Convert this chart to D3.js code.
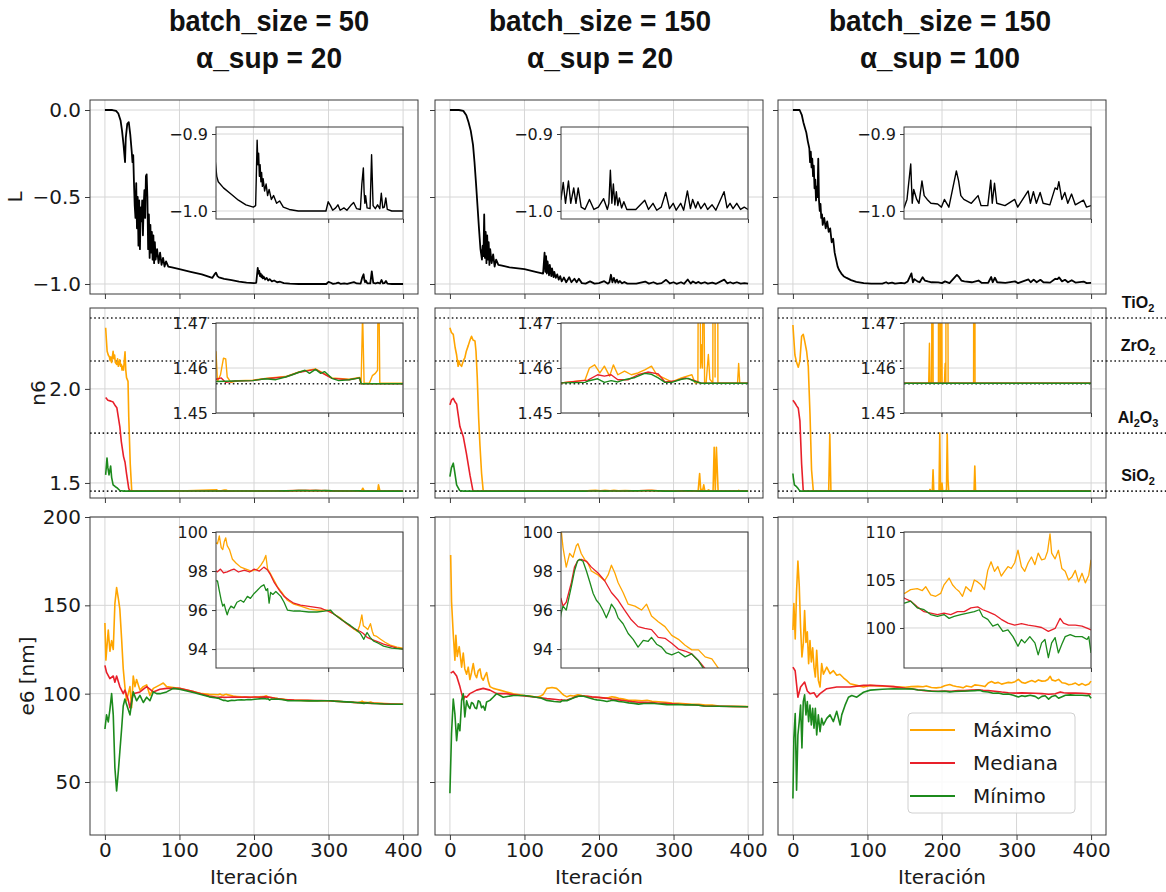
<!DOCTYPE html>
<html>
<head>
<meta charset="utf-8">
<script src="https://cdn.jsdelivr.net/npm/d3@7"></script>
<style>
  body { margin: 0; background: #fff; }
  svg { display: block; font-family: "DejaVu Sans", sans-serif; }
</style>
</head>
<body>
<svg id="chart" width="1166" height="892"></svg>
<script>
// ---------- data ----------
const colTitles = ["batch_size = 50", "batch_size = 150", "batch_size = 150"];
const colAlphas = ["α_sup = 20", "α_sup = 20", "α_sup = 100"];
const iterTicks = [0, 100, 200, 300, 400];
const insetIterTicks = [200, 300, 400];
const lTicks = [-1, -0.5, 0];
const lInsetTicks = [-1, -0.9];
const nTicks = [1.5, 2.0];
const nInsetTicks = [1.45, 1.46, 1.47];
const eTicks = [50, 100, 150, 200];
const eInsetTicks = [94, 96, 98, 100];
const eInsetTicksC3 = [100, 105, 110];
const seriesNames = ["Máximo", "Mediana", "Mínimo"];
const materialNames = ["TiO2", "ZrO2", "Al2O3", "SiO2"];
const materialN = [2.377, 2.148, 1.765, 1.4565];

// L (loss) per configuration: [iteration, value]
const L_bs50_a20 = [[0,0],[10,0],[15,-0.005],[18,-0.02],[21,-0.06],[23,-0.12],[25,-0.2],[27,-0.3],[28,-0.16],[30,-0.08],[32,-0.07],[34,-0.14],[36,-0.24],[37,-0.3],[38,-0.26],[39,-0.42],[40,-0.55],[41,-0.62],[42,-0.42],[43,-0.68],[44,-0.5],[45,-0.78],[46,-0.52],[47,-0.8],[48,-0.56],[49,-0.64],[50,-0.52],[51,-0.72],[52,-0.55],[53,-0.46],[54,-0.62],[55,-0.38],[56,-0.37],[57,-0.5],[58,-0.8],[59,-0.6],[60,-0.85],[61,-0.66],[62,-0.82],[63,-0.7],[64,-0.86],[65,-0.72],[66,-0.88],[67,-0.76],[68,-0.86],[70,-0.8],[72,-0.88],[74,-0.82],[76,-0.89],[78,-0.85],[80,-0.9],[82,-0.87],[85,-0.9],[90,-0.905],[100,-0.915],[115,-0.93],[130,-0.945],[144,-0.965],[147,-0.945],[149,-0.935],[151,-0.955],[153,-0.962],[160,-0.97],[170,-0.978],[180,-0.986],[190,-0.992],[200,-0.995],[203,-0.993],[205,-0.908],[206,-0.94],[207,-0.925],[208,-0.955],[209,-0.94],[210,-0.962],[211,-0.95],[212,-0.968],[213,-0.958],[215,-0.974],[217,-0.965],[219,-0.98],[221,-0.972],[224,-0.985],[227,-0.98],[231,-0.99],[235,-0.987],[240,-0.995],[248,-0.998],[260,-1.0],[297,-1.0],[300,-0.988],[303,-0.993],[306,-0.999],[310,-0.996],[313,-0.992],[316,-0.999],[321,-0.996],[325,-0.999],[330,-0.993],[334,-0.989],[338,-0.997],[343,-0.998],[345,-0.965],[347,-0.944],[348,-0.975],[349,-0.99],[350,-0.98],[352,-0.996],[356,-0.997],[358,-0.927],[359,-0.96],[360,-0.993],[363,-0.997],[366,-0.992],[369,-0.997],[371,-0.977],[373,-0.996],[375,-0.995],[377,-0.983],[379,-0.998],[385,-1.0],[400,-1.0]];
const L_bs150_a20 = [[0,0],[12,0],[18,-0.005],[22,-0.03],[25,-0.07],[28,-0.12],[31,-0.2],[33,-0.3],[35,-0.42],[37,-0.55],[39,-0.68],[41,-0.8],[43,-0.86],[44,-0.78],[45,-0.84],[46,-0.6],[47,-0.85],[48,-0.7],[49,-0.88],[50,-0.72],[51,-0.86],[52,-0.76],[53,-0.89],[54,-0.8],[56,-0.88],[58,-0.83],[60,-0.9],[62,-0.86],[65,-0.89],[70,-0.895],[80,-0.905],[100,-0.915],[115,-0.93],[125,-0.94],[127,-0.82],[128,-0.93],[129,-0.84],[130,-0.94],[131,-0.87],[133,-0.95],[134,-0.89],[136,-0.955],[137,-0.91],[139,-0.96],[140,-0.93],[142,-0.965],[144,-0.945],[146,-0.975],[148,-0.955],[150,-0.985],[153,-0.963],[156,-0.99],[160,-0.961],[163,-0.99],[167,-0.97],[170,-0.99],[173,-0.97],[177,-0.995],[182,-0.998],[188,-0.985],[194,-0.998],[200,-0.995],[207,-0.984],[212,-0.998],[214,-0.99],[216,-0.947],[218,-0.99],[220,-0.965],[222,-0.992],[224,-0.975],[226,-0.993],[228,-0.983],[231,-0.996],[234,-0.988],[238,-0.998],[250,-0.998],[262,-0.986],[267,-0.998],[273,-0.99],[278,-0.999],[284,-0.995],[290,-0.976],[295,-0.997],[300,-0.99],[304,-0.999],[310,-0.99],[314,-0.999],[319,-0.974],[323,-0.997],[326,-0.985],[330,-0.996],[333,-0.988],[337,-0.997],[342,-0.99],[346,-0.998],[352,-0.992],[357,-0.999],[368,-0.975],[372,-0.996],[376,-0.99],[380,-0.997],[385,-0.99],[390,-0.998],[395,-0.995],[400,-0.998]];
const L_bs150_a100 = [[0,0],[9,0],[12,-0.03],[14,-0.07],[16,-0.1],[18,-0.13],[20,-0.18],[22,-0.22],[23,-0.3],[24,-0.24],[25,-0.33],[26,-0.28],[27,-0.38],[28,-0.32],[29,-0.45],[30,-0.4],[31,-0.52],[32,-0.44],[33,-0.5],[34,-0.28],[35,-0.52],[36,-0.58],[37,-0.54],[38,-0.62],[39,-0.6],[40,-0.66],[42,-0.62],[44,-0.68],[46,-0.64],[48,-0.7],[50,-0.68],[52,-0.76],[54,-0.74],[56,-0.82],[58,-0.86],[60,-0.9],[62,-0.92],[65,-0.94],[68,-0.955],[72,-0.965],[78,-0.978],[85,-0.988],[95,-0.995],[105,-0.998],[120,-0.998],[125,-0.99],[128,-0.997],[133,-0.992],[137,-0.998],[145,-0.994],[150,-0.996],[154,-0.985],[159,-0.939],[161,-0.99],[163,-0.972],[167,-0.985],[170,-0.99],[174,-0.961],[177,-0.98],[181,-0.985],[186,-0.99],[195,-0.991],[200,-0.995],[204,-0.985],[210,-0.995],[220,-0.948],[223,-0.961],[226,-0.98],[230,-0.985],[240,-0.99],[249,-0.98],[253,-0.993],[262,-0.993],[266,-0.96],[268,-0.99],[271,-0.964],[274,-0.99],[285,-0.993],[298,-0.985],[302,-0.995],[316,-0.974],[319,-0.99],[323,-0.975],[327,-0.99],[332,-0.976],[336,-0.99],[345,-0.992],[352,-0.97],[355,-0.972],[357,-0.962],[361,-0.985],[365,-0.976],[369,-0.99],[374,-0.978],[379,-0.992],[390,-0.986],[394,-0.995],[400,-0.993]];

// n6 (refractive index) max / median / min
const n6Max_bs50_a20 = [[1,2.325],[2,2.26],[3,2.2],[4.5,2.18],[6,2.17],[7,2.15],[8,2.17],[9,2.14],[11,2.2],[12,2.16],[13,2.18],[14,2.14],[16,2.13],[17,2.16],[18,2.12],[20,2.155],[21,2.12],[22,2.13],[23,2.1],[24,2.12],[25,2.1],[26,2.15],[27,2.197],[28,2.1],[29,2.06],[31,2.04],[32,1.85],[34,1.6],[36,1.4575],[60,1.4572],[100,1.4571],[150,1.4636],[152,1.457],[156,1.4585],[160,1.4622],[163,1.462],[165,1.458],[170,1.4568],[180,1.4572],[199,1.4573],[216,1.4577],[243,1.4581],[260,1.4591],[283,1.4598],[305,1.4578],[328,1.4575],[342,1.4579],[344,1.4566],[346,1.472],[348,1.4566],[355,1.4566],[359,1.4583],[363,1.4588],[366,1.4595],[367,1.49],[369,1.4566],[400,1.4566]];
const n6Med_bs50_a20 = [[1,1.954],[4,1.94],[8,1.935],[11,1.93],[14,1.91],[16,1.9],[18,1.85],[20,1.8],[22,1.72],[25,1.64],[27,1.61],[29,1.55],[32,1.47],[34,1.4566],[60,1.4568],[100,1.457],[150,1.4575],[157,1.4578],[163,1.4568],[175,1.4571],[199,1.4572],[216,1.4576],[243,1.458],[260,1.459],[283,1.4597],[305,1.4577],[328,1.4574],[342,1.4578],[344,1.4565],[400,1.4565]];
const n6Min_bs50_a20 = [[1,1.543],[2.8,1.633],[4,1.58],[5.5,1.543],[7.7,1.59],[9,1.53],[11,1.49],[14,1.48],[16,1.475],[20,1.46],[25,1.4566],[60,1.4568],[100,1.457],[150,1.457],[175,1.4571],[199,1.4572],[216,1.4576],[230,1.4574],[243,1.458],[252,1.4585],[260,1.459],[269,1.4595],[275,1.4588],[283,1.4597],[290,1.4588],[295,1.4592],[305,1.4577],[314,1.4572],[328,1.4574],[342,1.4578],[344,1.4565],[400,1.4565]];
const n6Max_bs150_a20 = [[0,2.325],[2,2.3],[4.5,2.29],[7,2.22],[9,2.18],[11,2.12],[12,2.15],[13.4,2.13],[15.7,2.12],[18,2.15],[20,2.165],[22,2.2],[24.6,2.23],[27,2.26],[29,2.28],[31,2.26],[33.6,2.255],[35,2.2],[36.7,2.06],[38.5,1.85],[40.3,1.7],[42.5,1.55],[44.7,1.4566],[100,1.4567],[150,1.4567],[182,1.4573],[188,1.46],[195,1.4607],[202,1.4589],[208,1.4604],[215,1.4582],[220,1.4607],[226,1.4585],[235,1.4593],[244,1.4585],[253,1.4589],[262,1.4596],[271,1.4604],[278,1.4585],[287,1.4578],[298,1.4569],[311,1.4578],[325,1.4585],[329,1.4567],[333,1.4567],[335,1.55],[336.5,1.46],[337.5,1.4652],[339,1.46],[340.5,1.49],[342,1.4567],[344,1.4567],[347,1.463],[349,1.4575],[353,1.4567],[354.5,1.69],[356,1.458],[357.5,1.69],[359.8,1.4566],[386,1.4566],[387.5,1.461],[389,1.4566],[400,1.4566]];
const n6Med_bs150_a20 = [[0,1.915],[2,1.94],[4.5,1.95],[7,1.93],[9,1.92],[13.4,1.8],[18,1.745],[22,1.66],[27,1.54],[31,1.4566],[100,1.4567],[150,1.4567],[186,1.4573],[199,1.4585],[208,1.4582],[217,1.4585],[226,1.4574],[240,1.4574],[253,1.4585],[266,1.4591],[280,1.4587],[289,1.4569],[302,1.4571],[316,1.4578],[329,1.4572],[338,1.4566],[400,1.4566]];
const n6Min_bs150_a20 = [[0,1.534],[2,1.58],[4.5,1.605],[6,1.57],[9,1.49],[13,1.46],[18,1.4566],[100,1.4567],[150,1.4567],[182,1.4568],[186,1.4571],[199,1.4576],[208,1.4568],[217,1.4572],[226,1.4569],[235,1.4574],[249,1.4579],[262,1.4588],[271,1.4586],[280,1.4578],[289,1.4568],[298,1.4568],[311,1.4575],[320,1.4577],[329,1.457],[338,1.4566],[400,1.4566]];
const n6Max_bs150_a100 = [[0,2.34],[2.7,2.18],[5,2.14],[7.2,2.115],[9.4,2.15],[11.7,2.28],[13.9,2.29],[16,2.25],[18.4,2.2],[20.6,2.12],[22.9,1.87],[25,1.57],[27.4,1.4566],[48,1.4566],[49.5,1.76],[51,1.4566],[183,1.4566],[184,1.4655],[185,1.4566],[187,1.4566],[188,1.57],[189,1.4566],[196,1.4566],[197,1.765],[198,1.4566],[199,1.4566],[200,1.5],[201,1.4566],[204,1.4566],[205,1.461],[206,1.4566],[207,1.76],[208,1.52],[209,1.4566],[243,1.4566],[244,1.59],[245,1.4566],[400,1.4566]];
const n6Med_bs150_a100 = [[0,1.94],[2.7,1.925],[5,1.91],[7.2,1.897],[9.4,1.83],[11.7,1.6],[13.9,1.4566],[400,1.4566]];
const n6Min_bs150_a100 = [[0,1.55],[0.5,1.53],[2,1.49],[4.9,1.48],[7,1.47],[9.4,1.4566],[400,1.4566]];

// e6 (thickness, nm) max / median / min
const e6Max_bs50_a20 = [[0,140],[1.3,119],[3,128],[4.5,136],[6.7,124],[9,130],[11.2,125],[13.4,151],[15.7,160],[18,154],[20,148],[22.4,131],[24.6,114],[26.8,104],[29,96],[31.3,100],[33.6,104],[35.8,92],[38,110],[40.3,104],[42.5,108],[47,102],[51.5,104],[56,105],[60.4,99],[64.9,103],[69.4,104],[73.8,105],[78.3,106],[82.8,104],[91.7,103.5],[100,103],[110,102],[120,101],[130,100],[140,99.6],[152,99.4],[154.4,99.8],[157,99.2],[159,99.1],[161,99.5],[163,99.7],[165,99.3],[168,99.1],[172,98.6],[177,98.4],[183,98.2],[190,98.1],[197,98.0],[205.5,98.1],[210,98.3],[214,98.55],[216.6,98.8],[219,98.1],[223,97.85],[228,97.5],[232,97.2],[238,96.9],[245.5,96.5],[254,96.3],[263,96.2],[275,96.05],[285,96.0],[299,96.0],[307.6,95.8],[316,95.6],[325,95.3],[332,95.1],[339,94.9],[342,95.2],[345,95.75],[347,95.2],[350,95.1],[353,95.0],[356.5,95.3],[359,94.9],[361,94.7],[365,94.65],[370,94.5],[376,94.35],[383,94.2],[392,94.1],[400,94.05]];
const e6Med_bs50_a20 = [[0,116],[2.2,112],[6.7,108.5],[11.2,110],[13.4,106.5],[15.7,110],[20,104],[24.6,100],[26.8,102],[31.3,96.5],[33.6,92],[38,100],[47,101],[56,104],[64.9,101],[73.8,102.5],[82.8,103],[100,103],[120,101],[140,98.6],[150,98.0],[152,97.96],[156,98.1],[160,97.9],[165,97.96],[170,98.05],[174,98.1],[180,97.95],[188,98.05],[195,97.95],[201,98.1],[208,98.0],[214,98.2],[219,98.05],[223,97.8],[228,97.4],[235,97.0],[241,96.7],[248,96.5],[254,96.35],[263,96.25],[272,96.2],[281,96.15],[290,96.1],[299,95.95],[307.6,95.8],[316,95.55],[325,95.3],[334,95.05],[343,94.9],[347,94.8],[352,94.6],[358,94.5],[365,94.4],[374,94.25],[383,94.15],[392,94.05],[400,94.0]];
const e6Min_bs50_a20 = [[0,80],[2.2,88],[4.5,84],[6.7,91],[9,100],[11.2,88],[13.4,58],[15.7,45],[18,56],[20,67],[22.4,80],[24.6,93],[26.8,97],[29,94],[31.3,91],[33.6,88],[38,101],[42.5,96],[47,99],[51.5,95],[56,98],[60.4,96],[64.9,101],[69.4,100],[73.8,100],[82.8,101],[91.7,103],[100,102.5],[120,100.5],[140,98.2],[150,97.5],[152,97.5],[154.4,97.0],[157,96.5],[159,96.2],[161,96.3],[163,96.0],[165,95.75],[167,96.0],[170,96.2],[174,96.1],[178,96.4],[183,96.5],[187,96.4],[192,96.7],[196,96.6],[201,96.85],[205,97.0],[210,97.2],[214,97.3],[217,97.0],[219,97.1],[221,96.35],[223,96.9],[226,96.8],[230,96.95],[236.6,96.7],[241,96.4],[245.5,96.0],[254,95.95],[263,95.95],[274,95.9],[285,95.9],[295,95.95],[303,96.0],[307.6,95.8],[318,95.5],[330,95.2],[337,95.0],[343,94.8],[347.6,94.5],[350,94.7],[352,94.85],[356,94.6],[361,94.4],[367,94.3],[374,94.15],[385,94.05],[400,94.0]];
const e6Max_bs150_a20 = [[1,178.5],[2.2,152],[4.5,133.6],[6.7,119],[8,133],[9.8,121],[12.5,126.6],[15.7,115],[17.9,123],[20,114],[22.4,111],[24.6,115],[26.8,108],[29,112],[31.3,117],[33.6,111],[35.8,109],[38,113],[40.3,114],[42.5,109],[44.7,107.6],[47,110],[49.2,112],[51.5,107],[53.7,104],[58.2,103],[62.6,102.5],[67,102],[76,101],[85,100],[100,99],[110,98.5],[116,98],[121,98.5],[125,99.5],[130,103],[137,103.5],[143,103],[147,101.5],[150,100.2],[152.7,99.2],[157,98.2],[161.6,98.9],[166,98.7],[170.5,99.3],[172.7,99.4],[177,98.9],[181.6,98.6],[186,98.4],[190.6,98.0],[199.5,97.8],[208.4,97.5],[213,97.8],[217.4,98.3],[222,97.9],[226.4,97.4],[233,96.9],[239.8,96.3],[248.8,96.2],[257.7,96.0],[264.4,96.3],[271,95.7],[280,95.4],[289,95.15],[298,94.7],[307,94.5],[315.9,94.2],[324.8,93.96],[333.8,93.96],[342.7,93.6],[351.7,93.5],[360.7,93.0],[380,92.8],[400,92.7]];
const e6Med_bs150_a20 = [[1,111.6],[4.5,112.6],[9,110],[13.4,104],[17.9,96.5],[20,98.5],[22.4,98],[26.8,100],[35.8,102],[44.7,103],[53.7,102],[62.6,100],[76,100],[94,99],[116,98],[130,97.2],[140,96.8],[148,96.4],[150,96.6],[152.7,96.2],[157,96.4],[163.8,97.4],[168,98.2],[172.7,98.55],[177,98.6],[184,98.5],[190.6,98.2],[199.5,97.9],[208.4,97.5],[217.4,96.9],[226.4,96.5],[235,96.0],[244,95.5],[253,95.15],[262,95.06],[271,95.0],[280,94.6],[289,94.55],[298,94.3],[307,94.0],[315.9,93.9],[324.8,93.75],[333.8,93.4],[342.7,93.0],[360,92.9],[380,92.75],[400,92.6]];
const e6Min_bs150_a20 = [[0,43.6],[2.2,77.7],[4.5,97],[6.7,88.5],[9,73.4],[11.2,83],[13.4,79],[15.7,96.3],[17.9,100],[20,86.8],[22.4,96],[24.6,93],[26.8,91.5],[29,95],[31.3,94.3],[33.6,92],[35.8,91.5],[38,96],[40.3,95.3],[42.5,92],[44.7,93],[47,90.6],[49.2,95.3],[53.7,96.2],[58,98],[62.6,100],[71.6,98],[85,99],[100,99],[116,98],[122,97.5],[130,96.2],[140,95.6],[148,95.3],[150,95.8],[152.7,96.2],[157,96.0],[163.8,97.2],[168,98.0],[172,98.5],[175,98.6],[179.4,98.5],[184,98.0],[188.4,97.45],[193,96.85],[197.3,96.5],[201.7,96.3],[206,96.0],[210.6,95.6],[215,96.0],[217.4,96.3],[222,96.05],[226.4,95.6],[233,95.3],[239.8,94.8],[246.5,94.5],[253,94.1],[260,94.45],[266.6,94.4],[271,94.6],[277.8,94.25],[284.5,94.1],[291,93.8],[298,93.7],[307,93.85],[315.9,93.6],[324.8,93.75],[333.8,93.4],[340.5,93.0],[360,92.9],[380,92.75],[400,92.6]];
const e6Max_bs150_a100 = [[0,136],[1.3,151],[3.1,131],[4.9,158],[6.7,175],[8.5,161],[10.3,137.5],[12.1,120.8],[13.9,128],[15.7,147],[17.5,129],[19.3,135],[21.1,117],[22.9,130],[24.7,118],[26.5,126],[28.3,115],[30.1,109.4],[31.9,124.5],[34.1,107.5],[36.4,103.8],[38.6,117],[40.9,111],[45.4,115],[49.8,111.3],[54.3,113],[58.8,110.4],[63,111],[67.8,109],[72,107.5],[76.8,105.6],[85.7,104.7],[94.7,103.8],[103.7,104.7],[120,104.2],[135,104],[150.7,103.6],[158.8,104],[167.7,104.1],[174.5,103.9],[179,104.3],[185.7,103.45],[192.4,103.3],[199,103.6],[203.5,104.5],[210.3,105.2],[214.8,104.5],[219.3,104.1],[223.8,103.8],[228.2,103.3],[232.7,104.3],[239.5,103.8],[244,105],[248.5,104.8],[253,104.5],[257.5,104],[262,106],[266.4,106.9],[271,105.9],[275.4,106.4],[280,105.4],[284.4,105.9],[289,106.4],[293.4,106.2],[298,106.8],[302.4,108.1],[307,106.4],[311.4,105.9],[316,106.8],[320.4,107.4],[325,106.6],[329.4,107.8],[334,107.1],[338.4,107.2],[342,108.0],[345.2,109.8],[347.4,107.8],[352,107.2],[356.4,108.1],[361,106.2],[365.5,105.9],[370,105],[374.4,105.3],[379,106],[383.4,104.8],[388,105.7],[392.4,104.7],[397,105.5],[400,107.1]];
const e6Med_bs150_a100 = [[0,115],[3,113],[6.7,98],[10.3,103.8],[15.7,106.6],[19.3,101.5],[22.9,100],[28.3,100.5],[31.9,98],[36.4,100],[45.4,102.8],[58.8,103.8],[76.8,103.8],[94.7,104.7],[103.7,104.7],[120,104.5],[135,104],[150.7,103.1],[158.8,102.8],[167.7,102.2],[176.8,101.7],[185.7,101.55],[194.7,101.4],[203.5,101.55],[212.5,101.4],[221.5,101.7],[230.5,101.7],[239.5,102.1],[248.5,102.2],[255.2,101.9],[262,101.7],[271,101.4],[280,100.9],[289,100.5],[298,100.3],[307,100.45],[316,100.3],[325,100.2],[334,100.05],[343,99.65],[352,99.95],[358.7,101.0],[363.2,100.5],[370,100.3],[379,100.3],[388,100.2],[397,99.9],[400,99.8]];
const e6Min_bs150_a100 = [[0,40.7],[1.3,75],[3.1,88.8],[4.9,45.4],[6.7,76.6],[8.5,84.2],[10.3,93.6],[12.1,69.3],[13.9,95.5],[15.7,99.3],[17.5,88],[19.3,95.5],[21.1,84.2],[22.9,93.6],[24.7,82.3],[26.5,91.7],[28.3,80.4],[30.1,91.7],[31.9,76.6],[34.1,88],[36.4,78.5],[38.6,86],[40.9,82.3],[45.4,86],[49.8,88],[54.3,84.2],[58.8,90],[63.3,82.3],[65.5,88],[70,93.5],[74.5,98],[79,99],[85.7,98],[94.7,100.8],[103.7,102],[120,102.5],[135,102.8],[150.7,102.6],[158.8,102.8],[167.7,102.1],[176.8,101.9],[185.7,101.4],[194.7,101.2],[203.5,101.4],[210.3,101.0],[217,101.2],[226,101.4],[235,101.55],[244,101.7],[250.7,101.9],[255.2,101.2],[262,100.9],[268.7,100.2],[275.4,100.4],[282.2,99.65],[289,99.8],[295.7,99.1],[302.4,98.1],[307,98.8],[311.4,98.45],[318.2,99.1],[325,98.45],[329.4,97.2],[334,98.45],[338.4,98.8],[343,96.9],[347.4,98.45],[352,99.0],[356.4,97.4],[361,98.3],[365.5,99.1],[372.2,99.3],[379,99.1],[388,99.1],[394.7,98.8],[397,99.1],[400,97.4]];

// ---------- layout ----------
const COL_LEFT = [90, 435, 778];
const PANEL_W = 328;
const ROW_BOX = [{ top: 100, h: 194 }, { top: 308, h: 190 }, { top: 517, h: 318 }];
const INSET_BOX = [{ top: 127, h: 92 }, { top: 323, h: 90 }, { top: 532, h: 136 }];
const INSET_DX = 126, INSET_W = 187;
const COLORS = ["#ffa500", "#e8202a", "#1c8a1c"];
const GRID = "#d6d6d6", FRAME = "#3a3a3a", TEXT = "#1a1a1a";

const svg = d3.select("#chart");
const defs = svg.append("defs");
let clipCount = 0;

function addClip(x, y, w, h) {
    const id = "clip" + (clipCount++);
    defs.append("clipPath").attr("id", id)
        .append("rect").attr("x", x).attr("y", y).attr("width", w).attr("height", h);
    return `url(#${id})`;
}

// One matplotlib-like axes box: grid, optional dotted reference lines, series, frame, ticks.
function plotBox(c) {
    const x = d3.scaleLinear().domain(c.xDomain).range([c.left, c.left + c.width]);
    const y = d3.scaleLinear().domain(c.yDomain).range([c.top + c.height, c.top]);
    const g = svg.append("g");

    g.append("rect")
        .attr("x", c.left).attr("y", c.top)
        .attr("width", c.width).attr("height", c.height)
        .attr("fill", "#fff");

    g.selectAll("line.gx").data(c.xTicks).join("line").attr("class", "gx")
        .attr("x1", d => x(d)).attr("x2", d => x(d))
        .attr("y1", c.top).attr("y2", c.top + c.height)
        .attr("stroke", GRID).attr("stroke-width", 1);
    g.selectAll("line.gy").data(c.yTicks).join("line").attr("class", "gy")
        .attr("x1", c.left).attr("x2", c.left + c.width)
        .attr("y1", d => y(d)).attr("y2", d => y(d))
        .attr("stroke", GRID).attr("stroke-width", 1);

    const inner = g.append("g").attr("clip-path", addClip(c.left, c.top, c.width, c.height));

    (c.refLines || []).forEach(v => {
        inner.append("line")
            .attr("x1", c.left).attr("x2", c.left + c.width)
            .attr("y1", y(v)).attr("y2", y(v))
            .attr("stroke", "#222").attr("stroke-width", 1.6)
            .attr("stroke-dasharray", "1.6,2.6");
    });

    const line = d3.line().x(d => x(d[0])).y(d => y(d[1]));
    c.series.forEach(s => {
        inner.append("path")
            .datum(s.data)
            .attr("fill", "none")
            .attr("stroke", s.color)
            .attr("stroke-width", c.lineWidth)
            .attr("stroke-linejoin", "round")
            .attr("d", line);
    });

    g.append("rect")
        .attr("x", c.left).attr("y", c.top)
        .attr("width", c.width).attr("height", c.height)
        .attr("fill", "none").attr("stroke", FRAME).attr("stroke-width", 1);

    const xAxis = g.append("g")
        .attr("transform", `translate(0,${c.top + c.height})`)
        .call(d3.axisBottom(x).tickValues(c.xTicks).tickSize(c.tick).tickPadding(3)
            .tickFormat(c.showX ? d3.format("d") : () => ""));
    const yAxis = g.append("g")
        .attr("transform", `translate(${c.left},0)`)
        .call(d3.axisLeft(y).tickValues(c.yTicks).tickSize(c.tick).tickPadding(4)
            .tickFormat(c.showY ? d3.format(c.yFormat) : () => ""));

    [xAxis, yAxis].forEach(a => {
        a.select(".domain").remove();
        a.attr("font-family", null).attr("font-size", null);
        a.selectAll("line").attr("stroke", FRAME);
        a.selectAll("text")
            .filter(function () { return this.textContent === ""; })
            .remove();
        a.selectAll("text")
            .style("font-family", "'DejaVu Sans', sans-serif")
            .style("font-size", c.fontSize + "px")
            .attr("fill", TEXT);
    });
    return { x, y };
}

// ---------- panel definitions ----------
const lossSeries = [L_bs50_a20, L_bs150_a20, L_bs150_a100];
const n6Series = [
    [n6Max_bs50_a20, n6Med_bs50_a20, n6Min_bs50_a20],
    [n6Max_bs150_a20, n6Med_bs150_a20, n6Min_bs150_a20],
    [n6Max_bs150_a100, n6Med_bs150_a100, n6Min_bs150_a100]
];
const e6Series = [
    [e6Max_bs50_a20, e6Med_bs50_a20, e6Min_bs50_a20],
    [e6Max_bs150_a20, e6Med_bs150_a20, e6Min_bs150_a20],
    [e6Max_bs150_a100, e6Med_bs150_a100, e6Min_bs150_a100]
];

const rowSpec = [
    {
        series: col => [{ data: lossSeries[col], color: "#000" }],
        yDomain: [-1.0575, 0.0575], yTicks: lTicks, yFormat: ".1f",
        insetDomain: () => [-1.0104, -0.8909], insetTicks: () => lInsetTicks, insetFormat: ".1f",
        lineWidth: 1.8, insetLineWidth: 1.4
    },
    {
        series: col => n6Series[col].map((d, i) => ({ data: d, color: COLORS[i] })),
        yDomain: [1.42, 2.43], yTicks: nTicks, yFormat: ".1f",
        insetDomain: () => [1.45, 1.47], insetTicks: () => nInsetTicks, insetFormat: ".2f",
        refLines: materialN, insetRef: [materialN[3]],
        lineWidth: 1.6, insetLineWidth: 1.4
    },
    {
        series: col => e6Series[col].map((d, i) => ({ data: d, color: COLORS[i] })),
        yDomain: [20, 200], yTicks: eTicks, yFormat: "d",
        insetDomain: col => col === 2 ? [95.83, 110] : [93.03, 100],
        insetTicks: col => col === 2 ? eInsetTicksC3 : eInsetTicks, insetFormat: "d",
        lineWidth: 1.6, insetLineWidth: 1.3
    }
];

rowSpec.forEach((spec, row) => {
    COL_LEFT.forEach((left, col) => {
        const box = ROW_BOX[row];
        const series = spec.series(col);
        plotBox({
            left, top: box.top, width: PANEL_W, height: box.h,
            xDomain: [-20, 420], yDomain: spec.yDomain,
            xTicks: iterTicks, yTicks: spec.yTicks, yFormat: spec.yFormat,
            showX: row === 2, showY: col === 0, fontSize: 20, tick: 5,
            series, refLines: spec.refLines, lineWidth: spec.lineWidth
        });
        const ib = INSET_BOX[row];
        plotBox({
            left: left + INSET_DX, top: ib.top, width: INSET_W, height: ib.h,
            xDomain: [150, 400], yDomain: spec.insetDomain(col),
            xTicks: insetIterTicks, yTicks: spec.insetTicks(col), yFormat: spec.insetFormat,
            showX: false, showY: true, fontSize: 16, tick: 4,
            series, refLines: spec.insetRef, lineWidth: spec.insetLineWidth
        });
    });
});

// ---------- titles ----------
const titleCenters = [269, 600, 940];
const titleWidths = [200, 222, 222];
const alphaWidths = [146, 146, 160];
colTitles.forEach((t, i) => {
    [[t, 31, titleWidths[i]], [colAlphas[i], 68, alphaWidths[i]]].forEach(([txt, yy, w]) => {
        svg.append("text")
            .attr("x", titleCenters[i]).attr("y", yy)
            .attr("text-anchor", "middle")
            .attr("textLength", w).attr("lengthAdjust", "spacingAndGlyphs")
            .style("font-family", "'Liberation Sans Narrow', 'Liberation Sans', sans-serif")
            .style("font-weight", "bold").style("font-size", "29px")
            .attr("fill", "#111")
            .text(txt);
    });
});

// ---------- axis labels ----------
const yLabels = [
    { text: "L", x: 15, y: 197 },
    { text: "n6", x: 38, y: 393 },
    { text: "e6 [nm]", x: 27, y: 676 }
];
yLabels.forEach(l => {
    svg.append("text")
        .attr("transform", `translate(${l.x},${l.y}) rotate(-90)`)
        .attr("text-anchor", "middle").attr("dy", "0.35em")
        .style("font-size", "20px").attr("fill", TEXT)
        .text(l.text);
});
COL_LEFT.forEach(left => {
    svg.append("text")
        .attr("x", left + PANEL_W / 2).attr("y", 884)
        .attr("text-anchor", "middle")
        .style("font-size", "20px").attr("fill", TEXT)
        .text("Iteración");
});

// ---------- material reference labels (right of last column) ----------
const nScale = d3.scaleLinear().domain([1.42, 2.43]).range([498, 308]);
const lastRight = COL_LEFT[2] + PANEL_W;
materialNames.forEach((name, i) => {
    const yy = nScale(materialN[i]);
    svg.append("line")
        .attr("x1", lastRight).attr("x2", 1166)
        .attr("y1", yy).attr("y2", yy)
        .attr("stroke", "#222").attr("stroke-width", 1.6)
        .attr("stroke-dasharray", "1.6,2.6");
    const t = svg.append("text")
        .attr("x", 1138).attr("y", yy - 10)
        .attr("text-anchor", "middle")
        .style("font-family", "'Liberation Sans', sans-serif")
        .style("font-weight", "bold").style("font-size", "16px")
        .attr("fill", "#111");
    let lowered = false;
    name.split(/(\d)/).filter(s => s).forEach(part => {
        const isSub = /\d/.test(part);
        const ts = t.append("tspan").text(part);
        if (isSub) {
            ts.attr("dy", 4).style("font-size", "11px");
            lowered = true;
        } else if (lowered) {
            ts.attr("dy", -4);
            lowered = false;
        }
    });
});

// ---------- legend ----------
const lg = svg.append("g");
lg.append("rect")
    .attr("x", 908).attr("y", 713).attr("width", 167).attr("height", 100)
    .attr("rx", 4)
    .attr("fill", "#fff").attr("fill-opacity", 0.85)
    .attr("stroke", "#d0d0d0");
seriesNames.forEach((name, i) => {
    const yy = 730 + i * 33;
    lg.append("line")
        .attr("x1", 910).attr("x2", 955).attr("y1", yy).attr("y2", yy)
        .attr("stroke", COLORS[i]).attr("stroke-width", 2);
    lg.append("text")
        .attr("x", 973).attr("y", yy).attr("dy", "0.35em")
        .style("font-size", "20px").attr("fill", TEXT)
        .text(name);
});
</script>
</body>
</html>
